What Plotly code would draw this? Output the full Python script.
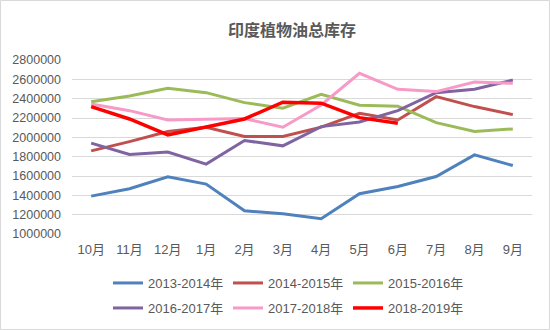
import plotly.graph_objects as go

months = ["10月", "11月", "12月", "1月", "2月", "3月", "4月", "5月", "6月", "7月", "8月", "9月"]

s2013_2014 = [1392000, 1468000, 1592000, 1516000, 1240000, 1210000, 1158000, 1416000, 1492000, 1595000, 1819000, 1708000]
s2014_2015 = [1860000, 1956000, 2060000, 2105000, 2008000, 2008000, 2105000, 2249000, 2180000, 2421000, 2318000, 2235000]
s2015_2016 = [2369000, 2428000, 2507000, 2462000, 2359000, 2301000, 2446000, 2332000, 2322000, 2152000, 2060000, 2087000]
s2016_2017 = [1940000, 1822000, 1847000, 1723000, 1967000, 1912000, 2111000, 2159000, 2276000, 2462000, 2497000, 2593000]
s2017_2018 = [2345000, 2276000, 2180000, 2190000, 2194000, 2105000, 2335000, 2662000, 2497000, 2473000, 2573000, 2559000]
s2018_2019 = [2318000, 2190000, 2025000, 2111000, 2190000, 2363000, 2353000, 2204000, 2146000]

series = [
    ("2013-2014年", s2013_2014, "#4F81BD", 3, "legend"),
    ("2014-2015年", s2014_2015, "#C0504D", 3, "legend"),
    ("2015-2016年", s2015_2016, "#9BBB59", 3, "legend"),
    ("2016-2017年", s2016_2017, "#8064A2", 3, "legend2"),
    ("2017-2018年", s2017_2018, "#F79AC8", 3, "legend2"),
    ("2018-2019年", s2018_2019, "#FF0000", 3.5, "legend2"),
]

FONT = "Liberation Sans, Noto Sans CJK SC, sans-serif"

fig = go.Figure()
for name, vals, color, w, lg in series:
    fig.add_trace(go.Scatter(
        x=months[:len(vals)], y=vals, name=name, mode="lines",
        line=dict(color=color, width=w), legend=lg,
    ))

W, H = 550, 330
ml, mr, mt, mb = 72, 18, 60, 96
pw, ph = W - ml - mr, H - mt - mb

legend_common = dict(
    orientation="h", xanchor="left", yanchor="middle",
    xref="container", yref="container",
    font=dict(family=FONT, size=13, color="#595959"),
    bgcolor="rgba(0,0,0,0)", entrywidth=75, itemwidth=30,
    tracegroupgap=0, traceorder="normal",
)

fig.update_layout(
    width=W, height=H,
    margin=dict(l=ml, r=mr, t=mt, b=mb),
    paper_bgcolor="white", plot_bgcolor="white",
    font=dict(family=FONT, size=13, color="#595959"),
    title=dict(text="<b>印度植物油总库存</b>", x=292 / W, xanchor="center",
               y=1 - 30 / H, yanchor="middle",
               font=dict(family="Noto Sans CJK SC, sans-serif", size=16, color="#595959")),
    xaxis=dict(range=[-0.5, 11.5], showgrid=False, showline=False, ticks="", zeroline=False,
               ticklabelstandoff=6,
               tickfont=dict(family=FONT, size=13, color="#595959")),
    yaxis=dict(range=[1000000, 2800000], dtick=200000, tickformat="d",
               showgrid=True, gridcolor="#D9D9D9", gridwidth=1, zeroline=False,
               showline=False, ticks="", ticklabelstandoff=10,
               tickfont=dict(family=FONT, size=12.5, color="#595959")),
    legend=dict(x=108 / W, y=1 - 283 / H, **legend_common),
    legend2=dict(x=108 / W, y=1 - 308 / H, **legend_common),
    showlegend=True,
    shapes=[dict(type="rect", xref="paper", yref="paper",
                 x0=(0.5 - ml) / pw, x1=(W - 0.5 - ml) / pw,
                 y0=-(mb - 0.5) / ph, y1=(H - mb - 0.5) / ph,
                 line=dict(color="#D9D9D9", width=1), layer="below")],
)

fig.write_html("out.html")
